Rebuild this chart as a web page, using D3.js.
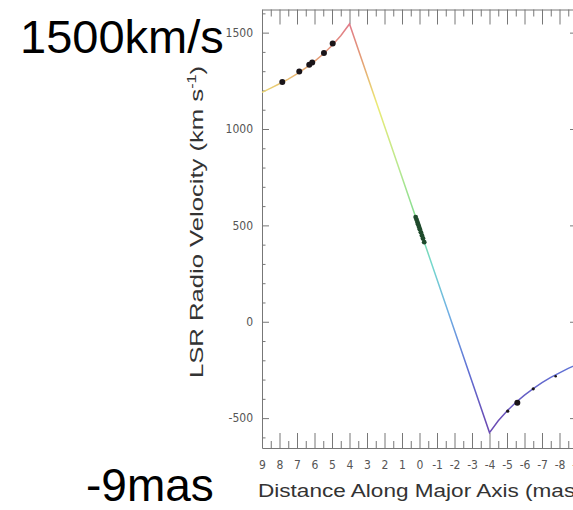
<!DOCTYPE html>
<html>
<head>
<meta charset="utf-8">
<script src="https://cdn.jsdelivr.net/npm/d3@7"></script>
<style>
  body { margin: 0; background: #fff; }
  svg { display: block; }
  .tick text { font-family: "Liberation Sans Narrow", "DejaVu Sans Condensed", sans-serif; font-size: 12px; fill: #555; }
  .axis path, .axis line { stroke: #777; }
</style>
</head>
<body>
<svg id="chart" width="573" height="510"></svg>
<script>
// distance along major axis (mas) / velocity (km/s)
var curveDist = [9, 8.5, 8, 7.5, 7, 6.5, 6, 5.5, 5, 4.5, 4, -4, -4.5, -5, -5.5, -6, -6.5, -7, -7.5, -8, -8.5, -9];
var curveVel  = [1190, 1212, 1235, 1259, 1286, 1317, 1351, 1389, 1433, 1484, 1545, -575, -514, -463, -419, -381, -347, -316, -289, -265, -242, -222];

var blackDist = [7.84, 6.87, 6.30, 6.13, 5.46, 4.96, -5.04, -5.59, -6.50, -7.78];
var blackVel  = [1244, 1298, 1333, 1345, 1394, 1443, -464, -420, -348, -283];
var blackSize = [3, 3, 3, 3, 3, 3, 1.6, 3, 1.6, 1.3];

var greenDist = [0.22, 0.17, 0.12, 0.08, 0.03, -0.02, -0.08, -0.14, -0.20, -0.27];
var greenVel  = [543, 530, 517, 506, 493, 480, 464, 448, 432, 413];

var xTicks = [9, 8, 7, 6, 5, 4, 3, 2, 1, 0, -1, -2, -3, -4, -5, -6, -7, -8, -9];
var xMinor = [8.5, 7.5, 6.5, 5.5, 4.5, 3.5, 2.5, 1.5, 0.5, -0.5, -1.5, -2.5, -3.5, -4.5, -5.5, -6.5, -7.5, -8.5];
var yTicks = [-500, 0, 500, 1000, 1500];
var yMinor = [-600, -400, -300, -200, -100, 100, 200, 300, 400, 600, 700, 800, 900, 1100, 1200, 1300, 1400, 1600];

var svg = d3.select("#chart");
var margin = {top: 9.5, left: 262, right: -4, bottom: 62};
var width = 573 - margin.left - margin.right,
    height = 510 - margin.top - margin.bottom;

var g = svg.append("g")
    .attr("transform", "translate(" + margin.left + "," + margin.top + ")");

var x = d3.scaleLinear().domain([9, -9]).range([0, width]);
var y = d3.scaleLinear().domain([-655, 1620]).range([height, 0]);

// velocity colour ramp, red (receding) to purple (approaching)
var colVel = [1545, 1300, 1080, 750, 500, 250, 0, -300, -575];
var colHex = ["#e0708e", "#e4a074", "#ecea74", "#b8e890", "#84dc90", "#74d8cc", "#70b0e4", "#6070d4", "#6a4cb4"];
var grad = svg.append("defs").append("linearGradient")
    .attr("id", "velgrad")
    .attr("gradientUnits", "userSpaceOnUse")
    .attr("x1", 0).attr("x2", 0)
    .attr("y1", y(1545)).attr("y2", y(-575));
colVel.forEach(function(v, i) {
  grad.append("stop")
    .attr("offset", (1545 - v) / (1545 + 575))
    .attr("stop-color", colHex[i]);
});

// frame + ticks, all pointing inward
function tickAxis(axisFn, ticks, size, labels) {
  return axisFn.tickValues(ticks).tickSizeInner(-size).tickSizeOuter(0)
    .tickFormat(labels ? function(d) { return String(d); } : "");
}

g.append("g").attr("class", "axis")
  .attr("transform", "translate(0," + height + ")")
  .call(tickAxis(d3.axisBottom(x), xTicks, 15, true).tickPadding(12));
g.append("g").attr("class", "axis minor")
  .attr("transform", "translate(0," + height + ")")
  .call(tickAxis(d3.axisBottom(x), xMinor, 7, false));
g.append("g").attr("class", "axis")
  .call(tickAxis(d3.axisTop(x), xTicks, 15, false));
g.append("g").attr("class", "axis minor")
  .call(tickAxis(d3.axisTop(x), xMinor, 7, false));

g.append("g").attr("class", "axis")
  .call(tickAxis(d3.axisLeft(y), yTicks, 7, true).tickPadding(9));
g.append("g").attr("class", "axis minor")
  .call(tickAxis(d3.axisLeft(y), yMinor, 3.5, false));
g.append("g").attr("class", "axis")
  .attr("transform", "translate(" + width + ",0)")
  .call(tickAxis(d3.axisRight(y), yTicks, 7, false));
g.append("g").attr("class", "axis minor")
  .attr("transform", "translate(" + width + ",0)")
  .call(tickAxis(d3.axisRight(y), yMinor, 3.5, false));

g.selectAll(".minor path").remove();

// the gradient is in svg space, shift it to the group origin
grad.attr("gradientTransform", "translate(0," + (-margin.top) + ")");

// rotation curve
var line = d3.line()
    .x(function(d, i) { return x(curveDist[i]); })
    .y(function(d, i) { return y(curveVel[i]); });

g.append("path")
  .datum(curveVel)
  .attr("d", line)
  .attr("fill", "none")
  .attr("stroke", "url(#velgrad)")
  .attr("stroke-width", 1.5);

g.selectAll(".green")
  .data(greenVel)
  .enter().append("circle")
  .attr("class", "green")
  .attr("cx", function(d, i) { return x(greenDist[i]); })
  .attr("cy", function(d) { return y(d); })
  .attr("r", 2.4)
  .attr("fill", "#1f4a2c");

g.selectAll(".dot")
  .data(blackVel)
  .enter().append("circle")
  .attr("class", "dot")
  .attr("cx", function(d, i) { return x(blackDist[i]); })
  .attr("cy", function(d) { return y(d); })
  .attr("r", function(d, i) { return blackSize[i]; })
  .attr("fill", "#1a1418");

// axis titles (the original lettering is wide, so stretch along the baseline)
var ylab = g.append("text")
  .attr("transform", "translate(-59," + (222 - margin.top) + ") rotate(-90) scale(1.35,1)")
  .attr("text-anchor", "middle")
  .style("font-family", "Liberation Sans, Arial, sans-serif")
  .style("font-size", "19px")
  .attr("fill", "#333")
  .text("LSR Radio Velocity (km s");
ylab.append("tspan").attr("baseline-shift", "super").style("font-size", "12px").text("-1");
ylab.append("tspan").text(")");

g.append("text")
  .attr("transform", "translate(-4," + (height + 49) + ") scale(1.22,1)")
  .style("font-family", "Liberation Sans, Arial, sans-serif")
  .style("font-size", "18.5px")
  .attr("fill", "#333")
  .text("Distance Along Major Axis (mas)");

// big annotations
svg.append("text")
  .attr("x", 20).attr("y", 53)
  .style("font-family", "Liberation Sans, Arial, sans-serif")
  .style("font-size", "47px")
  .text("1500km/s");

svg.append("text")
  .attr("x", 86).attr("y", 501)
  .style("font-family", "Liberation Sans, Arial, sans-serif")
  .style("font-size", "46px")
  .text("-9mas");
</script>
</body>
</html>
